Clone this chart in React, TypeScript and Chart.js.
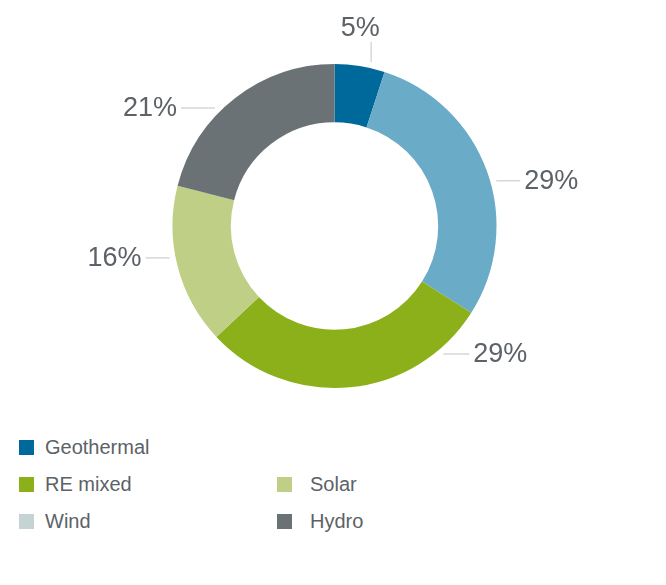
import React, { useEffect, useRef } from "react";
import { Chart, registerables } from "chart.js";

Chart.register(...registerables);

const categories = ["Geothermal", "", "RE mixed", "Solar", "Wind", "Hydro"];
const shares = [5, 29, 29, 16, 0, 21];
const percentLabels = ["5%", "29%", "29%", "16%", "", "21%"];
const sliceColors = ["#00699b", "#6aabc8", "#8cb01a", "#bfd086", "#c5d3d3", "#6b7276"];
// where along each slice the leader line leaves (fraction of slice angle)
const labelAnchor = [0.7, 0.54, 0.165, 0.56, 0.5, 0.4];
const leaderLength = [20, 24, 26, 24, 0, 34];

const FONT = "'Liberation Sans', Arial, Helvetica, sans-serif";
const TEXT_COLOR = "#5c6267";

const leaderLabels = {
  id: "leaderLabels",
  afterDatasetsDraw(chart: any) {
    const meta = chart.getDatasetMeta(0);
    const ctx = chart.ctx;
    ctx.save();
    ctx.font = `27px ${FONT}`;
    ctx.fillStyle = TEXT_COLOR;
    ctx.strokeStyle = "#d6d8d8";
    ctx.lineWidth = 1.5;
    meta.data.forEach((arc: any, i: number) => {
      const value = shares[i];
      if (!value) return;
      const { x, y, startAngle, endAngle, outerRadius } = arc.getProps(
        ["x", "y", "startAngle", "endAngle", "outerRadius"],
        true
      );
      const a = startAngle + labelAnchor[i] * (endAngle - startAngle);
      const r = outerRadius + 6;
      const sx = x + r * Math.cos(a);
      const sy = y + r * Math.sin(a);
      const c = Math.cos(a);
      const len = leaderLength[i];
      const text = percentLabels[i];
      if (Math.abs(c) < 0.35) {
        const up = Math.sin(a) < 0;
        const ey = up ? sy - len : sy + len;
        ctx.beginPath();
        ctx.moveTo(sx, sy);
        ctx.lineTo(sx, ey);
        ctx.stroke();
        ctx.textAlign = "center";
        ctx.textBaseline = up ? "alphabetic" : "top";
        ctx.fillText(text, sx - 11, up ? ey - 6 : ey + 6);
      } else {
        const right = c > 0;
        const ex = right ? sx + len : sx - len;
        ctx.beginPath();
        ctx.moveTo(sx, sy);
        ctx.lineTo(ex, sy);
        ctx.stroke();
        ctx.textAlign = right ? "left" : "right";
        ctx.textBaseline = "middle";
        ctx.fillText(text, right ? ex + 4 : ex - 4, sy + 1);
      }
    });
    ctx.restore();
  },
};

function Legend() {
  return (
    <div
      style={{
        position: "absolute",
        left: 11,
        top: 421,
        display: "grid",
        gridTemplateColumns: "258px 258px",
        gridAutoRows: "37px",
        fontFamily: FONT,
        fontSize: 20,
        color: TEXT_COLOR,
      }}
    >
      {categories.map((name, i) => (
        <div key={i} style={{ display: "flex", alignItems: "center", height: 37 }}>
          {name ? (
            <>
              <span
                style={{
                  display: "inline-block",
                  width: 15,
                  height: 15,
                  background: sliceColors[i],
                }}
              />
              <span style={{ marginLeft: i % 2 === 0 ? 11 : 18 }}>{name}</span>
            </>
          ) : null}
        </div>
      ))}
    </div>
  );
}

export default function App() {
  const canvasRef = useRef<HTMLCanvasElement | null>(null);

  useEffect(() => {
    if (!canvasRef.current) return;
    const chart = new Chart(canvasRef.current, {
      type: "doughnut",
      data: {
        labels: categories,
        datasets: [
          {
            data: shares,
            backgroundColor: sliceColors,
            borderWidth: 0,
            hoverOffset: 0,
            spacing: 0,
          },
        ],
      },
      options: {
        animation: false,
        responsive: false,
        cutout: "64%",
        layout: { padding: { top: 56, bottom: 40, left: 3, right: 0 } },
        plugins: {
          legend: { display: false },
          tooltip: { enabled: false },
        },
      },
      plugins: [leaderLabels],
    });
    return () => chart.destroy();
  }, []);

  return (
    <div style={{ position: "relative", width: 650, height: 569 }}>
      <canvas ref={canvasRef} width={650} height={420} style={{ display: "block" }} />
      <Legend />
    </div>
  );
}
